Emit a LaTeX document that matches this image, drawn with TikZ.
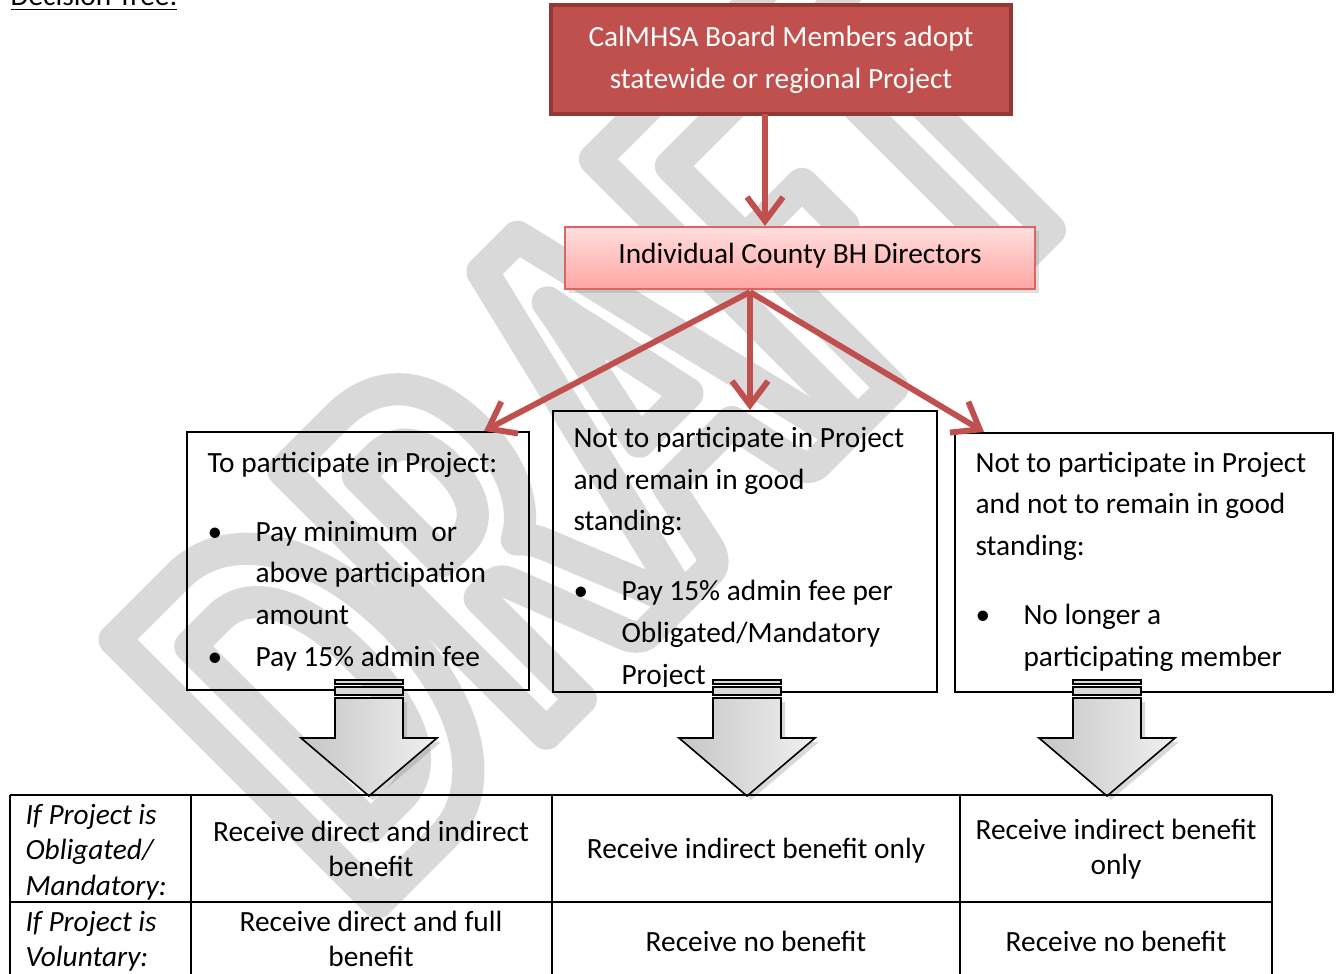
\documentclass[tikz,border=0pt]{standalone}
\usepackage{fontspec}
\setmainfont{Carlito}
\newfontfamily\stampfont[FakeStretch=0.66]{Carlito}
\usetikzlibrary{arrows.meta,fit,shadows}
\definecolor{calred}{RGB}{192,80,77}
\definecolor{calredline}{RGB}{149,55,53}
\definecolor{pinktop}{RGB}{255,222,221}
\definecolor{pinkbottom}{RGB}{255,166,164}
\definecolor{pinkline}{RGB}{217,102,98}
\definecolor{stampgray}{RGB}{217,217,217}
\newcommand{\bitem}{\makebox[18pt][l]{\textbullet}}
\newcommand{\bcont}{\hspace*{18pt}}
\newcommand{\bulkarrow}[1]{
    \draw[capbar] (#1-34,680) rectangle (#1+34,684);
    \draw[capbar] (#1-34,687) rectangle (#1+34,695);
    \draw[bulk] (#1-34,698) -- (#1+34,698) -- (#1+34,738) -- (#1+68,738)
        -- (#1,796) -- (#1-68,738) -- (#1-34,738) -- cycle;
}
\tikzset{
    boardbox/.style={draw=calredline, line width=1.5pt, fill=calred, inner sep=0pt},
    boardtext/.style={anchor=base, text=white, inner sep=0pt, align=center,
        font=\fontsize{11}{15.8}\selectfont},
    dirbox/.style={draw=pinkline, line width=0.8pt, top color=pinktop, bottom color=pinkbottom,
        inner sep=0pt, drop shadow={opacity=0.25, shadow xshift=1.5pt, shadow yshift=-1.5pt}},
    optbox/.style={draw, line width=0.8pt, inner sep=0pt},
    opttext/.style={anchor=base west, align=left, inner sep=0pt, font=\fontsize{11}{15.6}\selectfont},
    cell/.style={align=center, inner sep=0pt, font=\fontsize{11}{13.3}\selectfont},
    rowhead/.style={cell, anchor=west, align=left, font=\fontsize{11}{13.3}\selectfont\itshape},
    redarrow/.style={draw=calred, line width=2.2pt, -{Straight Barb[length=9pt,width=13.5pt]}},
    capbar/.style={draw, line width=0.6pt, fill=gray!30},
    bulk/.style={draw, line width=0.6pt, left color=gray!45, right color=gray!12,
        drop shadow={opacity=0.3, shadow xshift=1.5pt, shadow yshift=-1.5pt}},
    grid/.style={line width=0.8pt},
}

\begin{document}
\begin{tikzpicture}[x=0.375pt, y=-0.375pt]
    \useasboundingbox (0,0) rectangle (1340,973);
    \node[text=stampgray, rotate=45, anchor=base west, inner sep=0pt,
        font=\stampfont\fontsize{215}{215}\selectfont\bfseries] (draft) at (362,918)
        {\special{pdf:literal direct 1 Tr 12 w 1 j 1 J}DRAFT\special{pdf:literal direct 0 Tr}};
    \node[anchor=base west, inner sep=0pt, font=\fontsize{11}{13}\selectfont] (title) at (10,6) {\underline{Decision Tree:}};

    \node[boardbox, fit={(551,5) (1011,114)}] (board) {};
    \node[boardtext] (boardlabel) at (781,89) {CalMHSA Board Members adopt\\statewide or regional Project};
    \node[dirbox, fit={(565,227) (1035,289)}] (dir) {};
    \node[boardtext, text=black] (dirlabel) at (800,264) {Individual County BH Directors};

    \node[optbox, fit={(187,432) (529,690)}] (opt1) {};
    \node[optbox, fit={(553,411) (937,692)}] (opt2) {};
    \node[optbox, fit={(955,433) (1333,692)}] (opt3) {};

    \coordinate (drop) at (765,114);
    \coordinate (fork) at (750,292);
    \draw[redarrow] (drop) -- (drop |- dir.north);
    \draw[redarrow] (fork) -- ([shift={(-46,0)}]opt1.north east);
    \draw[redarrow] (fork) -- (fork |- opt2.north);
    \draw[redarrow] (fork) -- ([shift={(30,0)}]opt3.north west);

    \node[opttext] (opt1text) at (207,666) {To participate in Project:\\[10.3pt]
        \bitem Pay minimum\ \ or\\
        \bcont above participation\\
        \bcont amount\\
        \bitem Pay 15\% admin fee};
    \begin{scope}
        \clip (553,411) rectangle (937,686);
        \node[opttext] (opt2text) at (573,684) {Not to participate in Project\\
            and remain in good\\
            standing:\\[10.7pt]
            \bitem Pay 15\% admin fee per\\
            \bcont Obligated/Mandatory\\
            \bcont Project};
    \end{scope}
    \node[opttext] (opt3text) at (975,666) {Not to participate in Project\\
        and not to remain in good\\
        standing:\\[10.3pt]
        \bitem No longer a\\
        \bcont participating member};

    \bulkarrow{369}
    \bulkarrow{747}
    \bulkarrow{1107}

    \draw[grid] (10,795) -- (1272,795);
    \draw[grid] (10,902) -- (1272,902);
    \foreach \gx in {10,191,552,960,1272}
        \draw[grid] (\gx,795) -- (\gx,985);

    \node[rowhead] (obl) at (25,852) {If Project is\\Obligated/\\Mandatory:};
    \node[rowhead] (vol) at (25,941) {If Project is\\Voluntary:};
    \node[cell] (obl1) at (371,849) {Receive direct and indirect\\benefit};
    \node[cell] (obl2) at (756,851) {Receive indirect benefit only};
    \node[cell] (obl3) at (1116,849) {Receive indirect benefit\\only};
    \node[cell] (vol1) at (371,939) {Receive direct and full\\benefit};
    \node[cell] (vol2) at (756,941) {Receive no benefit};
    \node[cell] (vol3) at (1116,941) {Receive no benefit};
\end{tikzpicture}
\end{document}
